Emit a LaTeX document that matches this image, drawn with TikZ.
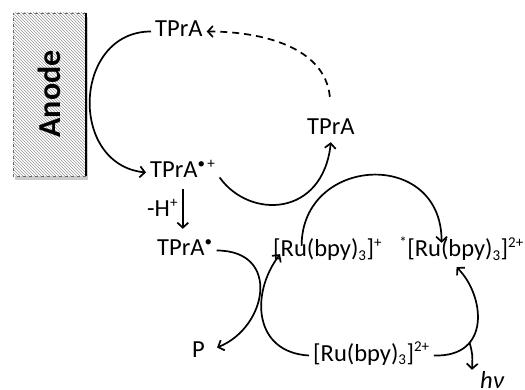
\documentclass[tikz,border=0pt]{standalone}
\usepackage{fontspec}
\setmainfont{Carlito}
\usepackage{tikz}
\usetikzlibrary{arrows.meta,patterns,positioning,calc}
\newcommand\chsup[1]{\textsuperscript{\fontsize{15}{15}\selectfont #1}}
\newcommand\chsub[1]{\textsubscript{\fontsize{15}{15}\selectfont #1}}

\begin{document}
\begin{tikzpicture}[x=1pt, y=-1pt,
    chem/.style={font=\fontsize{24.5}{28}\selectfont, anchor=base west, inner xsep=4pt, inner ysep=2pt, text height=16pt, text depth=5pt},
    react/.style={line width=1.7pt, -{Straight Barb[length=5pt,width=11pt,line width=1.7pt]}}]
    \useasboundingbox (0,0) rectangle (525,390);

    % Anode electrode
    \fill[black!20] (15,17) rectangle (88,180);
    \fill[white] (13,13) rectangle (86,176);
    \fill[pattern=north west lines, pattern color=gray!80] (13,13) rectangle (86,176);
    \draw[dashed, gray!80!black] (86,13) -- (13,13) -- (13,176) -- (86,176);
    \draw[line width=2.2pt] (86,13) -- (86,176);
    \node[rotate=90, font=\fontsize{32}{36}\selectfont\bfseries] (anode) at (49,94) {Anode};

    % Species
    \node[chem] (tpraTop) at (151,37) {TPrA};
    \node[chem] (tpraMid) at (303,135) {TPrA};
    \node[chem] (tpraRad) at (146,178) {TPrA\chsup{•\,+}};
    \node[chem] (tpraDot) at (153,256) {TPrA\chsup{•}};
    \node[chem] (ruPlus) at (269,257) {[Ru(bpy)\chsub{3}]\chsup{+}};
    \node[chem, anchor=base east, inner xsep=1pt] (ruStar) at (525,257) {\chsup{*}[Ru(bpy)\chsub{3}]\chsup{2+}};
    \node[chem] (ruTwo) at (309,361) {[Ru(bpy)\chsub{3}]\chsup{2+}};
    \node[chem] (prodP) at (188,357) {P};
    \node[chem] (light) at (476,388) {\textit{hν}};

    % Oxidation at the anode
    \draw[react] (tpraTop.west) .. controls +(-78,0) and +(-78,-8) .. (tpraRad.west);
    \draw[react, dash pattern=on 7pt off 5pt] ([shift={(-1,-20)}]tpraMid.north) .. controls +(-5,-50) and +(55,0) .. (tpraTop.east);

    % Deprotonation
    \draw[react, shorten <=4pt, shorten >=9pt] (tpraRad.south) -- (tpraRad.south |- tpraDot.north)
        node[chem, midway, anchor=east] (lossH) {-H\chsup{+}};

    % Electron transfer steps
    \draw[react] ([shift={(0,5)}]tpraRad.east) .. controls +(30,42) and +(-8,75) .. (tpraMid.south);
    \draw[react] ([shift={(-26,7)}]ruPlus.north) .. controls +(0,-90) and +(0,-95) .. ([shift={(-20,4)}]ruStar.north);
    \draw[react] (tpraDot.east) .. controls +(65,0) and +(50,-20) .. ([shift={(8,-4)}]prodP.east);
    \draw[react] (ruTwo.west) .. controls +(-55,-3) and +(-30,40) .. ([shift={(11,-10)}]ruPlus.south west);

    % Excited state and emission
    \draw[react] (ruTwo.east) .. controls +(58,2) and +(28,28) .. ([shift={(-5,3)}]ruStar.south)
        coordinate[pos=0.3] (fork);
    \draw[react] (fork) .. controls +(3,12) .. ([shift={(-4,0)}]light.north west);
\end{tikzpicture}
\end{document}
